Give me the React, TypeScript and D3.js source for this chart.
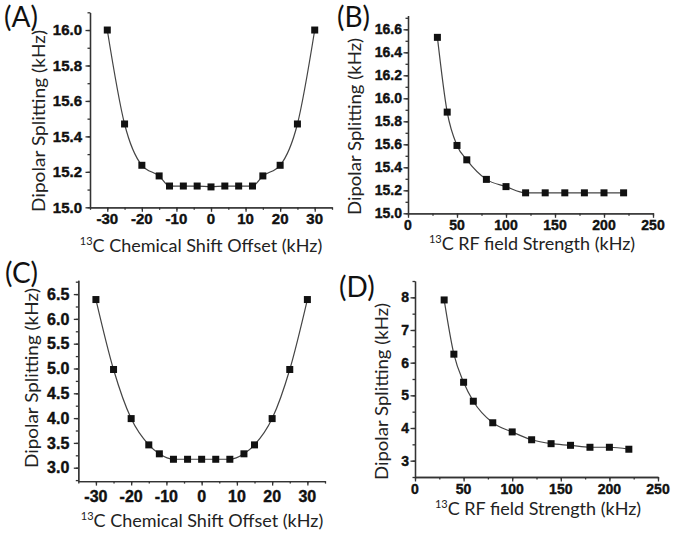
import React, { useEffect, useRef } from "react";
import * as d3 from "d3";

// offsets (kHz) used in panels A and C
const offsetX = [-30, -25, -20, -15, -12, -8, -4, 0, 4, 8, 12, 15, 20, 25, 30];
const splitA = [16.0, 15.47, 15.237, 15.177, 15.12, 15.12, 15.12, 15.115, 15.12, 15.12, 15.12, 15.177, 15.237, 15.47, 16.0];
const splitC = [6.39, 4.98, 3.99, 3.46, 3.28, 3.17, 3.17, 3.17, 3.17, 3.17, 3.28, 3.46, 3.99, 4.98, 6.39];

// rf field strengths (kHz) used in panels B and D
const rfX = [30, 40, 50, 60, 80, 100, 120, 140, 160, 180, 200, 220];
const splitB = [16.53, 15.88, 15.59, 15.465, 15.295, 15.232, 15.178, 15.178, 15.178, 15.178, 15.178, 15.178];
const splitD = [7.92, 6.26, 5.4, 4.82, 4.16, 3.88, 3.64, 3.52, 3.47, 3.41, 3.41, 3.35];

const yTicksA = [15.0, 15.2, 15.4, 15.6, 15.8, 16.0];
const yTicksB = [15.0, 15.2, 15.4, 15.6, 15.8, 16.0, 16.2, 16.4, 16.6];
const yTicksC = [3.0, 3.5, 4.0, 4.5, 5.0, 5.5, 6.0, 6.5];
const yTicksD = [3, 4, 5, 6, 7, 8];
const offsetTicks = [-30, -20, -10, 0, 10, 20, 30];
const rfTicks = [0, 50, 100, 150, 200, 250];

const LABEL_FONT = "Lato, 'Open Sans', sans-serif";
const TICK_FONT = "'Liberation Sans', Arial, sans-serif";
const INK = "#333";

type Panel = {
  tag: string;
  tagX: number;
  tagY: number;
  xs: number[];
  ys: number[];
  xDomain: [number, number];
  xRange: [number, number];
  yDomain: [number, number];
  yRange: [number, number];
  xTicks: number[];
  xMinor: number;
  yTicks: number[];
  yMinor: number;
  yDigits: number;
  tickFont: number;
  yTickGap: number;
  xTickDy: number;
  xLabel: string;
  xLabelY: number;
  xLabelX: number;
  yLabelX: number;
  yLabelY: number;
  yLabelLen: number;
};

const panels: Panel[] = [
  {
    tag: "(A)", tagX: 4, tagY: 27,
    xs: offsetX, ys: splitA,
    xDomain: [-35, 35], xRange: [90, 332],
    yDomain: [15.0, 16.1], yRange: [207.3, 12.3],
    xTicks: offsetTicks, xMinor: 5, yTicks: yTicksA, yMinor: 0.1, yDigits: 1,
    tickFont: 15, yTickGap: 8, xTickDy: 17,
    xLabel: "C Chemical Shift Offset (kHz)", xLabelX: 201, xLabelY: 252,
    yLabelX: 45, yLabelY: 121, yLabelLen: 182,
  },
  {
    tag: "(B)", tagX: 337, tagY: 27,
    xs: rfX, ys: splitB,
    xDomain: [0, 250], xRange: [408, 653],
    yDomain: [15.0, 16.72], yRange: [213.3, 15.5],
    xTicks: rfTicks, xMinor: 25, yTicks: yTicksB, yMinor: 0.1, yDigits: 1,
    tickFont: 14, yTickGap: 6, xTickDy: 17,
    xLabel: "C RF field Strength (kHz)", xLabelX: 532, xLabelY: 250,
    yLabelX: 361, yLabelY: 126.5, yLabelLen: 177,
  },
  {
    tag: "(C)", tagX: 5, tagY: 283,
    xs: offsetX, ys: splitC,
    xDomain: [-35, 35], xRange: [78.3, 325],
    yDomain: [2.73, 6.78], yRange: [481.1, 280.2],
    xTicks: offsetTicks, xMinor: 5, yTicks: yTicksC, yMinor: 0.25, yDigits: 1,
    tickFont: 16, yTickGap: 9, xTickDy: 21,
    xLabel: "C Chemical Shift Offset (kHz)", xLabelX: 202, xLabelY: 527,
    yLabelX: 38, yLabelY: 378, yLabelLen: 180,
  },
  {
    tag: "(D)", tagX: 339, tagY: 297,
    xs: rfX, ys: splitD,
    xDomain: [0, 250], xRange: [415, 658],
    yDomain: [2.5, 8.5], yRange: [477, 281],
    xTicks: rfTicks, xMinor: 25, yTicks: yTicksD, yMinor: 0.5, yDigits: 0,
    tickFont: 14, yTickGap: 6, xTickDy: 17,
    xLabel: "C RF field Strength (kHz)", xLabelX: 538, xLabelY: 515,
    yLabelX: 388, yLabelY: 391.5, yLabelLen: 177,
  },
];

function range(lo: number, hi: number, step: number) {
  const out: number[] = [];
  const n = Math.floor((hi - lo) / step + 1e-6);
  for (let i = 0; i <= n; i++) out.push(+(lo + i * step).toFixed(4));
  return out;
}

function drawPanel(svg: d3.Selection<SVGSVGElement, unknown, null, undefined>, p: Panel) {
  const x = d3.scaleLinear().domain(p.xDomain).range(p.xRange);
  const y = d3.scaleLinear().domain(p.yDomain).range(p.yRange);
  const g = svg.append("g");

  // minor ticks
  const xMinorTicks = range(Math.ceil(p.xDomain[0] / p.xMinor - 1e-6) * p.xMinor, p.xDomain[1], p.xMinor);
  const yMinorTicks = range(Math.ceil(p.yDomain[0] / p.yMinor - 1e-6) * p.yMinor, p.yDomain[1], p.yMinor);

  g.append("g")
    .attr("transform", `translate(0, ${p.yRange[0]})`)
    .call(d3.axisBottom(x).tickValues(xMinorTicks).tickSize(2.5).tickSizeOuter(0).tickFormat(() => ""));
  g.append("g")
    .attr("transform", `translate(${p.xRange[0]}, 0)`)
    .call(d3.axisLeft(y).tickValues(yMinorTicks).tickSize(2.5).tickSizeOuter(0).tickFormat(() => ""));

  // major ticks
  g.append("g")
    .attr("transform", `translate(0, ${p.yRange[0]})`)
    .call(d3.axisBottom(x).tickValues(p.xTicks).tickSize(4.5).tickSizeOuter(0).tickFormat(() => ""));
  g.append("g")
    .attr("transform", `translate(${p.xRange[0]}, 0)`)
    .call(d3.axisLeft(y).tickValues(p.yTicks).tickSize(4.5).tickSizeOuter(0).tickFormat(() => ""));

  g.selectAll(".domain, .tick line").attr("stroke", INK).attr("stroke-width", 1.3);

  // tick labels (bold, slightly heavier like the scanned figure)
  g.append("g")
    .selectAll("text")
    .data(p.xTicks)
    .enter()
    .append("text")
    .attr("x", (d) => x(d))
    .attr("y", p.yRange[0] + p.xTickDy)
    .attr("text-anchor", "middle")
    .attr("font-family", TICK_FONT)
    .attr("font-weight", "bold")
    .attr("font-size", p.tickFont)
    .attr("fill", "#111")
    .attr("stroke", "#111")
    .attr("stroke-width", 0.4)
    .text((d) => String(d));

  g.append("g")
    .selectAll("text")
    .data(p.yTicks)
    .enter()
    .append("text")
    .attr("x", p.xRange[0] - p.yTickGap)
    .attr("y", (d) => y(d) + p.tickFont * 0.36)
    .attr("text-anchor", "end")
    .attr("font-family", TICK_FONT)
    .attr("font-weight", "bold")
    .attr("font-size", p.tickFont)
    .attr("fill", "#111")
    .attr("stroke", "#111")
    .attr("stroke-width", 0.4)
    .text((d) => d.toFixed(p.yDigits));

  // fitted curve
  const pts = p.xs.map((v, i) => [v, p.ys[i]] as [number, number]);
  const line = d3.line<[number, number]>()
    .x((d) => x(d[0]))
    .y((d) => y(d[1]))
    .curve(d3.curveMonotoneX);
  g.append("path")
    .attr("d", line(pts))
    .attr("fill", "none")
    .attr("stroke", "#444")
    .attr("stroke-width", 1.2);

  // markers
  g.selectAll("rect.pt")
    .data(pts)
    .enter()
    .append("rect")
    .attr("class", "pt")
    .attr("x", (d) => x(d[0]) - 3.5)
    .attr("y", (d) => y(d[1]) - 3.5)
    .attr("width", 7)
    .attr("height", 7)
    .attr("fill", "#111");

  // X label with superscript 13
  const xl = g.append("text")
    .attr("x", p.xLabelX)
    .attr("y", p.xLabelY)
    .attr("text-anchor", "middle")
    .attr("font-family", LABEL_FONT)
    .attr("font-size", 18)
    .attr("fill", "#222");
  xl.append("tspan").attr("font-size", 11).attr("dy", -7).text("13");
  xl.append("tspan").attr("dy", 7).text(p.xLabel);

  // Y label
  g.append("text")
    .attr("transform", `translate(${p.yLabelX}, ${p.yLabelY}) rotate(-90)`)
    .attr("text-anchor", "middle")
    .attr("textLength", p.yLabelLen)
    .attr("lengthAdjust", "spacingAndGlyphs")
    .attr("font-family", LABEL_FONT)
    .attr("font-size", 17)
    .attr("fill", "#222")
    .text("Dipolar Splitting (kHz)");

  // panel tag
  g.append("text")
    .attr("x", p.tagX)
    .attr("y", p.tagY)
    .attr("font-family", LABEL_FONT)
    .attr("font-size", 28)
    .attr("fill", "#111")
    .text(p.tag);
}

export default function App() {
  const ref = useRef<SVGSVGElement>(null);

  useEffect(() => {
    const svg = d3.select(ref.current!);
    svg.selectAll("*").remove();
    panels.forEach((p) => drawPanel(svg, p));
  }, []);

  return (
    <svg
      ref={ref}
      width={675}
      height={535}
      style={{ position: "absolute", left: 0, top: 0, background: "white" }}
    />
  );
}
